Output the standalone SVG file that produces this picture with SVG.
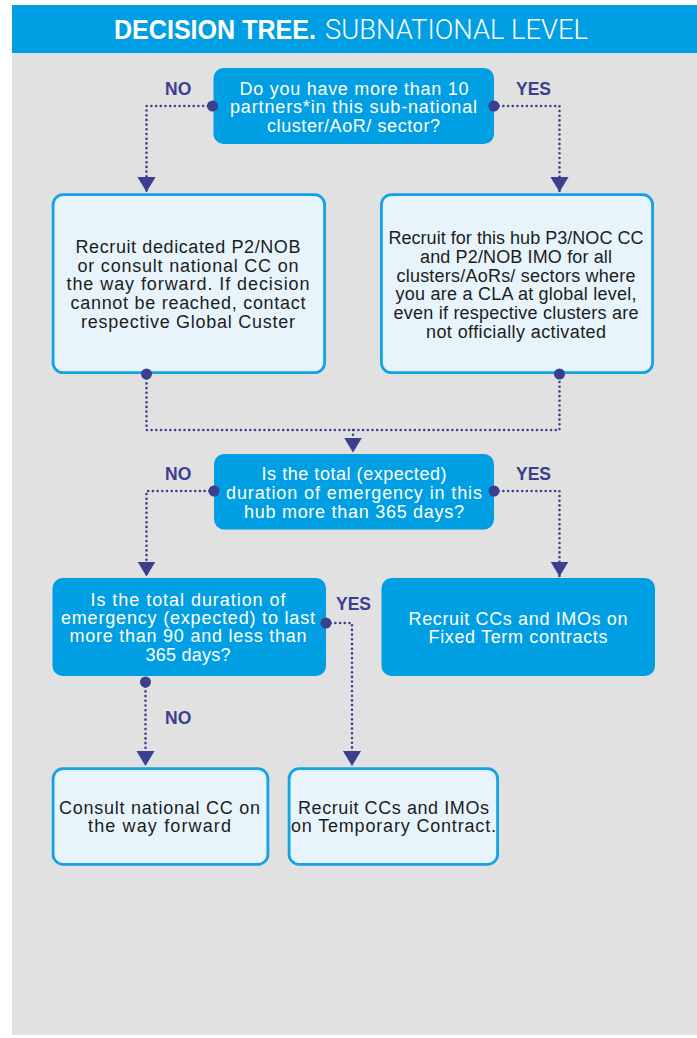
<svg xmlns="http://www.w3.org/2000/svg" width="697" height="1038" viewBox="0 0 697 1038">
<style>
.hd{font-family:"Liberation Sans",Arial,sans-serif;fill:#fff}
.t{font-family:"Liberation Sans",Arial,sans-serif;font-size:18px;text-anchor:middle}
.w{fill:#fff}
.k{fill:#1d1d1b}
.dec{fill:#009ee2}
.lt{fill:#e7f4fc;stroke:#13a2e4;stroke-width:2.8}
.lbl{font-family:"Liberation Sans",Arial,sans-serif;font-size:17.5px;font-weight:bold;fill:#3a3f8f}
.con{fill:none;stroke:#3a3f8f;stroke-width:2.6;stroke-dasharray:0 4.7;stroke-linecap:round}
.dot{fill:#3a3f8f}
</style>
<defs>
<marker id="ah" markerUnits="userSpaceOnUse" markerWidth="16" markerHeight="20" viewBox="-14 -9 15 18" refX="0" refY="0" orient="auto">
<path d="M-14,-8.5 L0,0 L-14,8.5Z" fill="#3a3f8f"/>
</marker>
</defs>
<rect x="12" y="5" width="685" height="48" fill="#009ee2"/>
<rect x="12" y="53" width="685" height="982" fill="#e1e1e1"/>
<text class="hd" x="114" y="38.5" font-size="27" font-weight="bold" textLength="202" lengthAdjust="spacingAndGlyphs">DECISION TREE.</text>
<text class="hd" x="325" y="38.5" font-size="27" style="font-family:Roboto,'Liberation Sans',sans-serif;font-weight:300" textLength="263" lengthAdjust="spacingAndGlyphs">SUBNATIONAL LEVEL</text>

<g id="connectors">
<path class="con" d="M212.5,106 H146.5 V192" marker-end="url(#ah)"/>
<path class="con" d="M494,106 H559.5 V192" marker-end="url(#ah)"/>
<path class="con" d="M146.5,374 V430 H559.5 V374"/>
<path class="con" d="M353,430 V452.5" marker-end="url(#ah)"/>
<path class="con" d="M214,491 H146.5 V576.5" marker-end="url(#ah)"/>
<path class="con" d="M494,491 H559.5 V576.5" marker-end="url(#ah)"/>
<path class="con" d="M326,623 H352 V766" marker-end="url(#ah)"/>
<path class="con" d="M145.5,682 V766" marker-end="url(#ah)"/>
<text class="lbl" x="165" y="94.5">NO</text>
<text class="lbl" x="516" y="94.5">YES</text>
<text class="lbl" x="165" y="480">NO</text>
<text class="lbl" x="516" y="480">YES</text>
<text class="lbl" x="336" y="610">YES</text>
<text class="lbl" x="165" y="724">NO</text>
</g>

<g id="q1">
<rect class="dec" x="213.5" y="68" width="280.5" height="76" rx="10"/>
<text class="t w" x="354" y="94.5" textLength="229">Do you have more than 10</text>
<text class="t w" x="353.5" y="113.3" textLength="247">partners*in this sub-national</text>
<text class="t w" x="353.5" y="132" textLength="173">cluster/AoR/ sector?</text>
</g>

<g id="a_no1">
<rect class="lt" x="53.1" y="194.7" width="271.5" height="178" rx="10"/>
<text class="t k" x="188" y="252.7" textLength="225">Recruit dedicated P2/NOB</text>
<text class="t k" x="188" y="271.5" textLength="221">or consult national CC on</text>
<text class="t k" x="188" y="290.3" textLength="243">the way forward. If decision</text>
<text class="t k" x="188" y="309" textLength="235">cannot be reached, contact</text>
<text class="t k" x="188" y="327.8" textLength="214">respective Global Custer</text>
</g>

<g id="a_yes1">
<rect class="lt" x="381.4" y="194.7" width="271.2" height="178" rx="10"/>
<text class="t k" x="516" y="244" textLength="255">Recruit for this hub P3/NOC CC</text>
<text class="t k" x="516" y="262.8" textLength="192">and P2/NOB IMO for all</text>
<text class="t k" x="516" y="281.6" textLength="239">clusters/AoRs/ sectors where</text>
<text class="t k" x="516" y="300.4" textLength="241">you are a CLA at global level,</text>
<text class="t k" x="516" y="319.2" textLength="245">even if respective clusters are</text>
<text class="t k" x="516" y="338" textLength="180">not officially activated</text>
</g>

<g id="q2">
<rect class="dec" x="214" y="454" width="280" height="75.5" rx="10"/>
<text class="t w" x="354" y="480" textLength="185">Is the total (expected)</text>
<text class="t w" x="354" y="499" textLength="256">duration of emergency in this</text>
<text class="t w" x="354" y="517.5" textLength="220">hub more than 365 days?</text>
</g>

<g id="q3">
<rect class="dec" x="52.5" y="578" width="273.5" height="98" rx="10"/>
<text class="t w" x="188" y="605.7" textLength="195">Is the total duration of</text>
<text class="t w" x="188" y="624" textLength="254">emergency (expected) to last</text>
<text class="t w" x="188" y="642.3" textLength="237">more than 90 and less than</text>
<text class="t w" x="188" y="660.5" textLength="85">365 days?</text>
</g>

<g id="a_yes2">
<rect class="dec" x="381.5" y="578" width="273.5" height="98" rx="10"/>
<text class="t w" x="518" y="624.5" textLength="219">Recruit CCs and IMOs on</text>
<text class="t w" x="518" y="643.3" textLength="179">Fixed Term contracts</text>
</g>

<g id="a_no3">
<rect class="lt" x="53.1" y="768.7" width="214.8" height="95.6" rx="10"/>
<text class="t k" x="159.5" y="813.5" textLength="201">Consult national CC on</text>
<text class="t k" x="159.5" y="832.3" textLength="143">the way forward</text>
</g>

<g id="a_yes3">
<rect class="lt" x="289.1" y="768.7" width="208.5" height="95.6" rx="10"/>
<text class="t k" x="393.5" y="813.5" textLength="191">Recruit CCs and IMOs</text>
<text class="t k" x="393.5" y="832.3" textLength="205">on Temporary Contract.</text>
</g>

<g id="dots">
<circle class="dot" cx="212.5" cy="106" r="5.5"/>
<circle class="dot" cx="494" cy="106" r="5.5"/>
<circle class="dot" cx="146.5" cy="374" r="5.5"/>
<circle class="dot" cx="559.5" cy="374" r="5.5"/>
<circle class="dot" cx="214" cy="491" r="5.5"/>
<circle class="dot" cx="494" cy="491" r="5.5"/>
<circle class="dot" cx="326" cy="623" r="5.5"/>
<circle class="dot" cx="145.5" cy="682" r="5.5"/>
</g>
</svg>
